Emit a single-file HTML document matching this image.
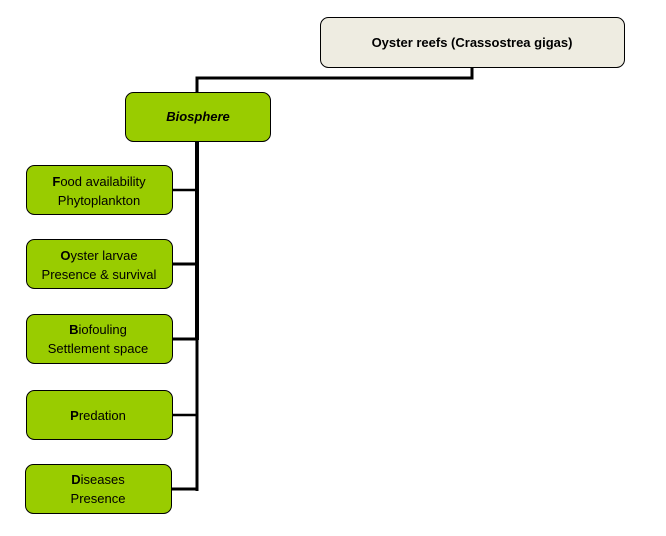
<!DOCTYPE html>
<html><head><meta charset="utf-8"><style>
html,body{margin:0;padding:0;background:#fff;}
svg{display:block;}
text{font-family:"Liberation Sans",sans-serif;}
</style></head><body>
<svg width="666" height="536" viewBox="0 0 666 536" xmlns="http://www.w3.org/2000/svg">
<g fill="none" stroke="#000">
<polyline points="472,67 472,78 197,78 197,92" stroke-width="3"/>
<line x1="197" y1="141" x2="197" y2="340" stroke-width="4"/>
<line x1="197" y1="338" x2="197" y2="491" stroke-width="3"/>
<line x1="172" y1="190" x2="197" y2="190" stroke-width="2.5"/>
<line x1="172" y1="264" x2="197" y2="264" stroke-width="3"/>
<line x1="172" y1="339" x2="197" y2="339" stroke-width="3"/>
<line x1="172" y1="415" x2="197" y2="415" stroke-width="2.5"/>
<line x1="172" y1="489" x2="197" y2="489" stroke-width="3"/>
</g>
<rect x="320.5" y="17.5" width="304" height="50" rx="8" fill="#eeece1" stroke="#000"/>
<text x="472" y="47" text-anchor="middle" font-size="13" font-weight="bold">Oyster reefs (Crassostrea gigas)</text>
<rect x="125.5" y="92.5" width="145" height="49" rx="8" fill="#99cc00" stroke="#000"/>
<text x="198" y="121" text-anchor="middle" font-size="13" font-weight="bold" font-style="italic">Biosphere</text>
<g fill="#99cc00" stroke="#000">
<rect x="26.5" y="165.5" width="146" height="49" rx="8"/>
<rect x="26.5" y="239.5" width="146" height="49" rx="8"/>
<rect x="26.5" y="314.5" width="146" height="49" rx="8"/>
<rect x="26.5" y="390.5" width="146" height="49" rx="8"/>
<rect x="25.5" y="464.5" width="146" height="49" rx="8"/>
</g>
<g font-size="13" text-anchor="middle">
<text x="99" y="186"><tspan font-weight="bold">F</tspan>ood availability</text>
<text x="99" y="205">Phytoplankton</text>
<text x="99" y="260"><tspan font-weight="bold">O</tspan>yster larvae</text>
<text x="99" y="279">Presence &amp; survival</text>
<text x="98" y="334"><tspan font-weight="bold">B</tspan>iofouling</text>
<text x="98" y="353">Settlement space</text>
<text x="98" y="420"><tspan font-weight="bold">P</tspan>redation</text>
<text x="98" y="484"><tspan font-weight="bold">D</tspan>iseases</text>
<text x="98" y="503">Presence</text>
</g>
</svg>
</body></html>
